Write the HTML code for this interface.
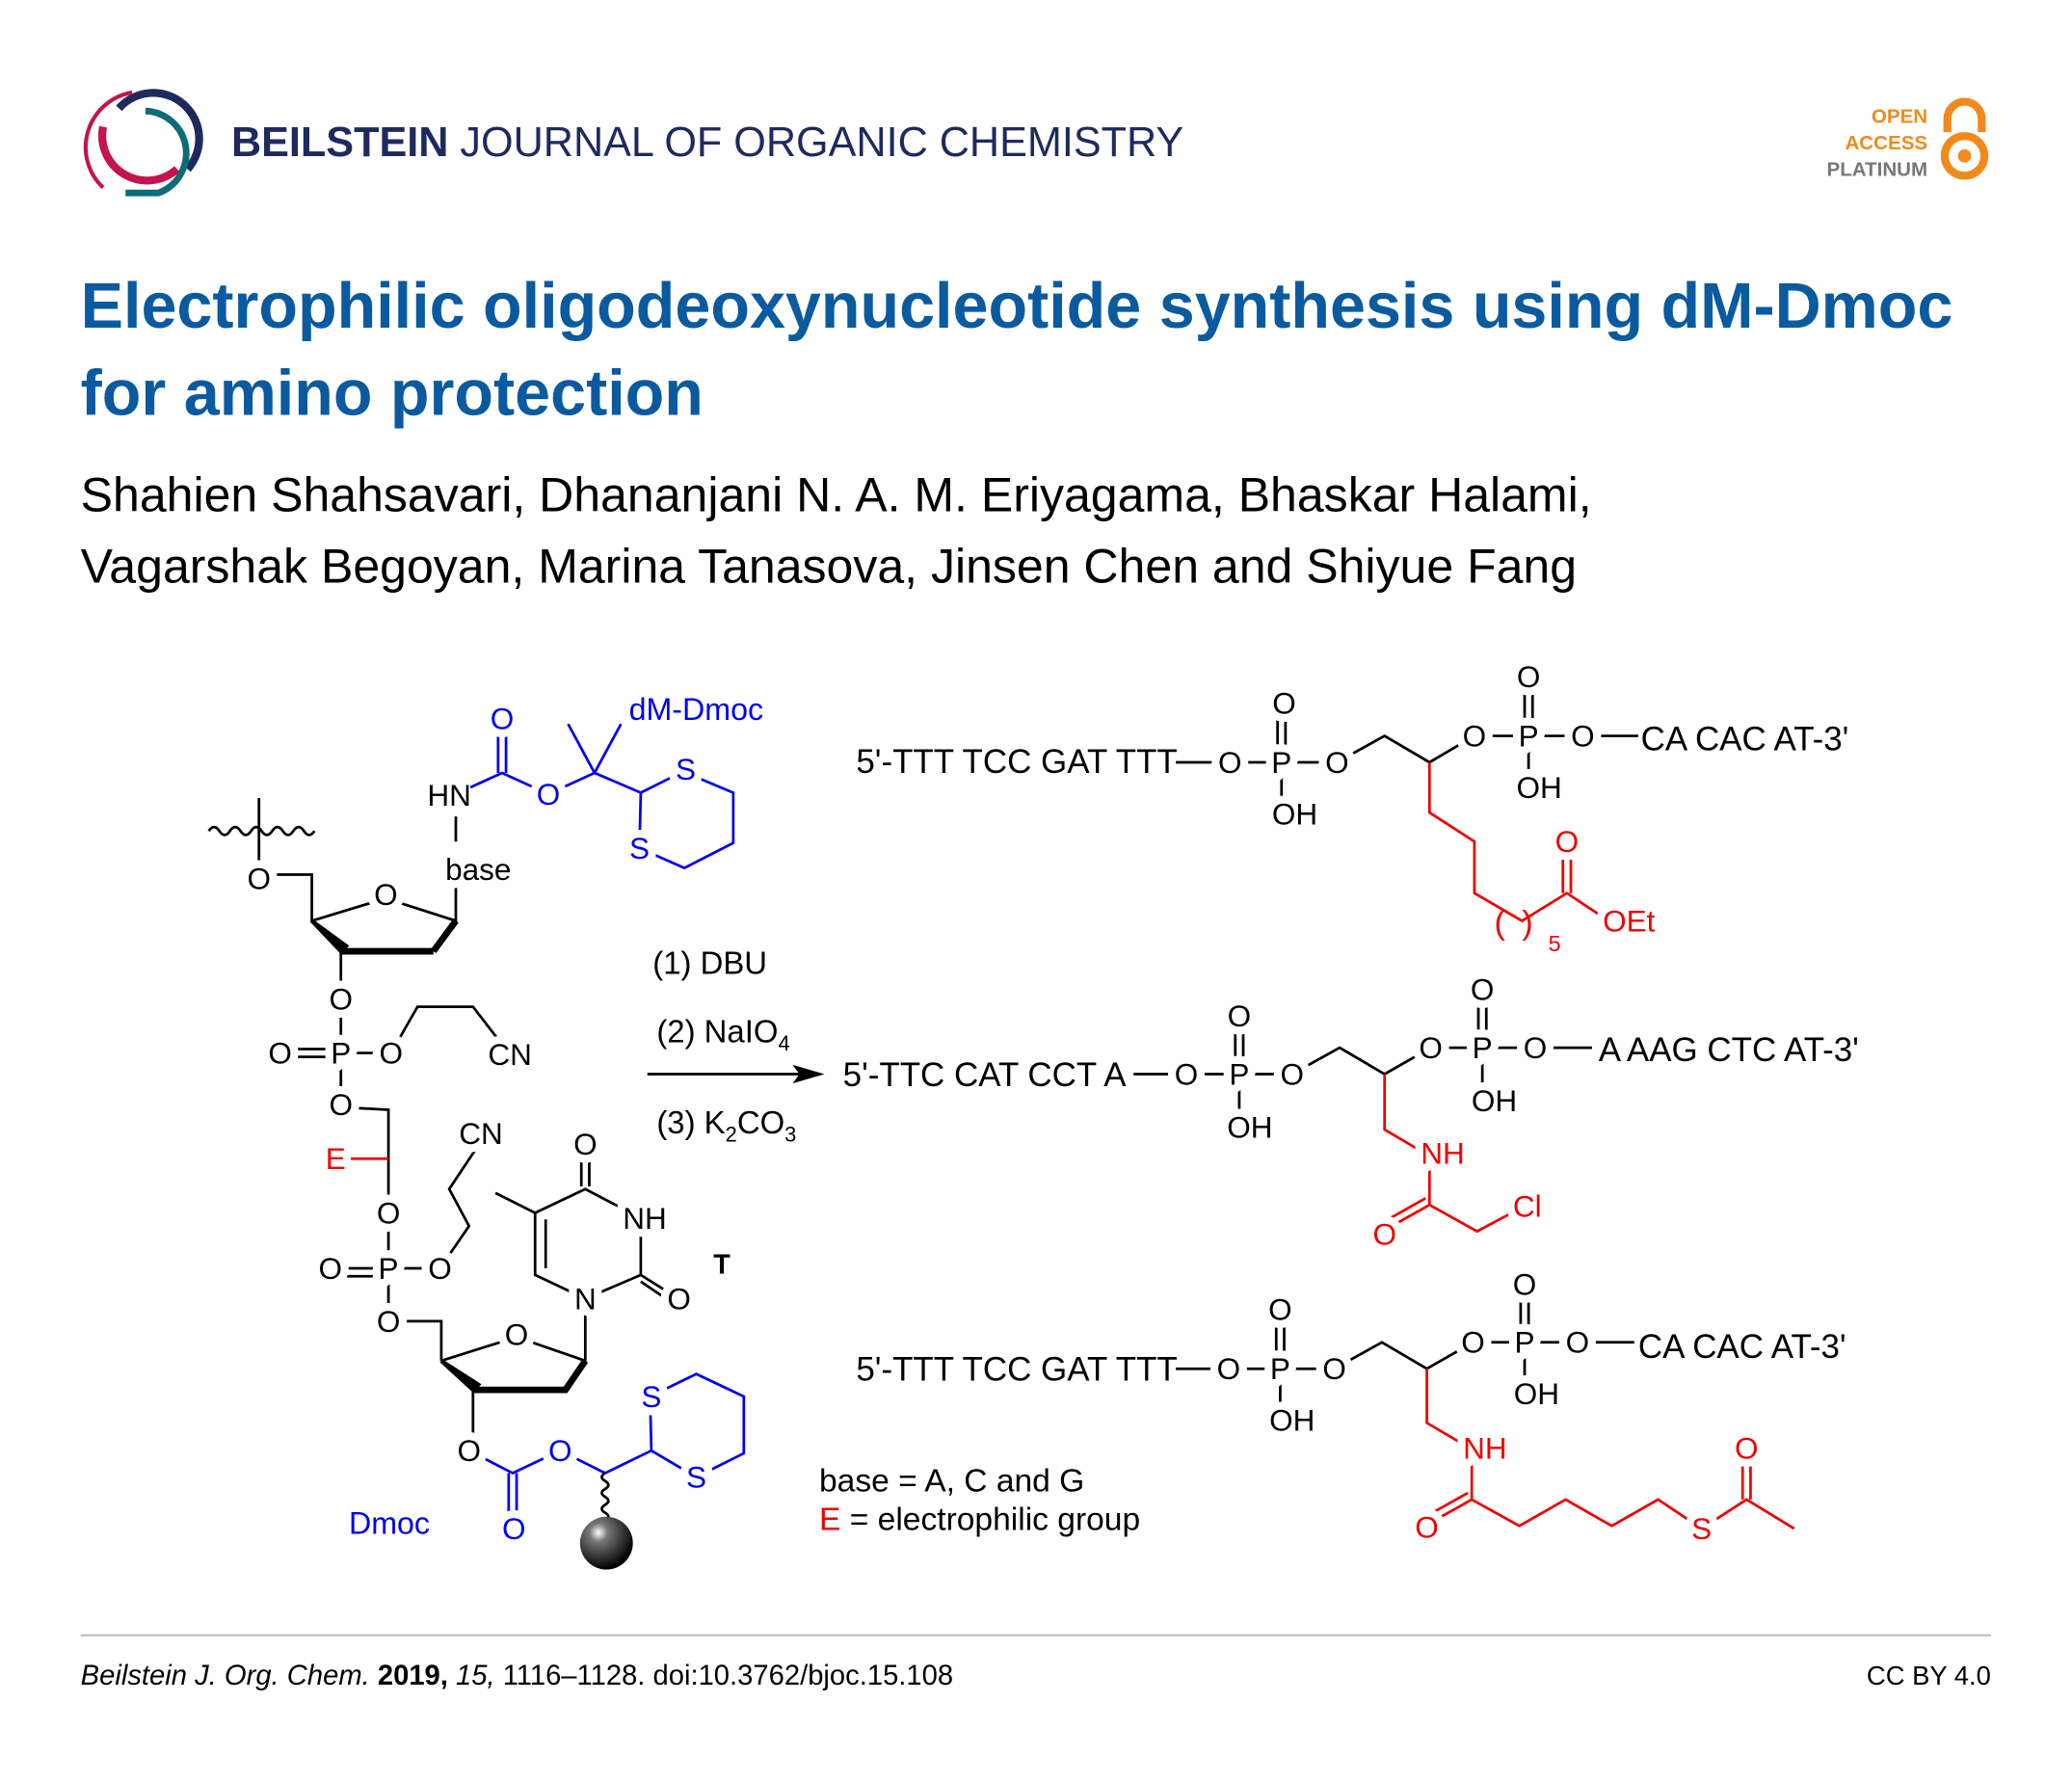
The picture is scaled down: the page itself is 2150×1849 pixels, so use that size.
<!DOCTYPE html>
<html><head><meta charset="utf-8"><style>
html,body{margin:0;padding:0;background:#fff;}
svg{display:block;}
text{font-family:"Liberation Sans",Arial,sans-serif;}
.a{font-size:23px;text-anchor:middle;paint-order:stroke;stroke:#fff;stroke-width:12px;stroke-linejoin:round;}
.k{stroke:#000;stroke-width:2;fill:none;}
.b{stroke:#0000ee;stroke-width:2;fill:none;}
.r{stroke:#ee0000;stroke-width:2;fill:none;}
.t{font-size:25.5px;}
</style></head><body>
<svg width="2150" height="1849" viewBox="0 0 1568.3 1348.8" xmlns="http://www.w3.org/2000/svg">
<defs>
<radialGradient id="bead" cx="0.35" cy="0.3" r="0.7">
<stop offset="0" stop-color="#fff"/><stop offset="0.25" stop-color="#777"/><stop offset="1" stop-color="#000"/>
</radialGradient>
</defs>
<g fill="none">
<path d="M90 82 A34 34 0 0 1 142 128" stroke="#1e2a5e" stroke-width="6"/>
<path d="M100 70 A42 42 0 0 0 78 142" stroke="#c4134f" stroke-width="3"/>
<path d="M78 96 A34 34 0 0 0 134 128" stroke="#c4134f" stroke-width="6"/>
<path d="M110 84 A32 32 0 0 1 120 146 L95 146" stroke="#0e6b78" stroke-width="5"/>
</g>
<text x="175" y="118" font-size="31.5" fill="#1e2a5e"><tspan font-weight="bold">BEILSTEIN</tspan> JOURNAL OF ORGANIC CHEMISTRY</text>
<g font-weight="bold" font-size="15" text-anchor="end">
<text x="1459" y="93" fill="#f08a1c">OPEN</text>
<text x="1459" y="113" fill="#f08a1c">ACCESS</text>
<text x="1459" y="133" fill="#777">PLATINUM</text>
</g>
<path d="M1474 100 V90 A13 13 0 0 1 1500 90 V100" fill="none" stroke="#f08a1c" stroke-width="6"/>
<circle cx="1487" cy="118" r="15" fill="none" stroke="#f08a1c" stroke-width="6"/>
<circle cx="1487" cy="118" r="5" fill="#f08a1c"/>
<g font-weight="bold" font-size="48.5" fill="#0a5aa0">
<text x="61" y="248">Electrophilic oligodeoxynucleotide synthesis using dM-Dmoc</text>
<text x="61" y="314">for amino protection</text>
</g>
<g font-size="36.5" fill="#000">
<text x="61" y="387">Shahien Shahsavari, Dhananjani N. A. M. Eriyagama, Bhaskar Halami,</text>
<text x="61" y="441">Vagarshak Begoyan, Marina Tanasova, Jinsen Chen and Shiyue Fang</text>
</g>

<path class="k" d="M158 629 q4 -6 8 0 q4 6 8 0 q4 -6 8 0 q4 6 8 0 q4 -6 8 0 q4 6 8 0 q4 -6 8 0 q4 6 8 0 q4 -6 8 0 q4 6 8 0"/>
<path class="k" d="M196 604 V665 M196 662 H236 V697 L292 680 L345 697 V665"/>
<path d="M236 697 L258 720 L262 716 Z" stroke="#000" stroke-width="3" fill="#000"/>
<path d="M258 720 H328 M328 720 L345 697" stroke="#000" stroke-width="5" fill="none"/>
<path class="k" d="M345 618 V637"/>
<text class="a" x="340" y="610">HN</text>
<text class="a" x="362" y="666">base</text>
<text class="a" x="292" y="685">O</text>
<text class="a" x="196" y="673">O</text>
<path class="b" d="M356 596 L380 585 L415 601 L450 585 L430 548 M450 585 L470 548 M450 585 L485 600 L517 584 L555 600 V638 L518 657 L484 642 L485 600 M377 585 V548 M383 585 V548"/>
<g fill="#0000ee"><text class="a" x="380" y="552">O</text><text class="a" x="415" y="609">O</text>
<text class="a" x="519" y="590">S</text><text class="a" x="484" y="650">S</text>
<text x="476" y="545" font-size="23.5">dM-Dmoc</text></g>
<path class="k" d="M258 720 V797 M258 797 V838 M258 797 H296 L316 762 H358 L378 788 M223 794 H250 M223 800 H250 M258 838 L294 840 V918 M294 918 V1000 M294 960 H333 L355 928 L340 900 L360 870 M258 960 H286 M258 966 H286 M294 1000 H334 V1030"/>
<path class="r" d="M262 877 H294"/>
<text class="a" x="258" y="764">O</text><text class="a" x="258" y="805">P</text>
<text class="a" x="212" y="805">O</text><text class="a" x="296" y="805">O</text>
<text class="a" x="386" y="806">CN</text><text class="a" x="258" y="844">O</text>
<text class="a" x="254" y="885" fill="#ee0000">E</text>
<text class="a" x="294" y="926">O</text><text class="a" x="294" y="968">P</text>
<text class="a" x="250" y="968">O</text><text class="a" x="333" y="968">O</text>
<text class="a" x="364" y="866">CN</text><text class="a" x="294" y="1008">O</text>
<path class="k" d="M334 1030 L391 1012 L443 1030 V983 M358 1052 V1098"/>
<path d="M334 1030 L358 1052 L362 1048 Z" stroke="#000" stroke-width="3" fill="#000"/>
<path d="M358 1052 H428 L443 1030" stroke="#000" stroke-width="5" fill="none"/>
<text class="a" x="391" y="1018">O</text>
<path class="k" d="M443 983 L485 965 L512 982 M485 965 V922 L443 900 L405 918 L375 903 M440 898 V866 M446 898 V866 M405 918 V965 L443 983 M413 923 V960 M485 970 L510 987"/>
<text class="a" x="443" y="991">N</text><text class="a" x="488" y="930">NH</text>
<text class="a" x="443" y="874">O</text><text class="a" x="514" y="991">O</text>
<text x="540" y="964" font-size="21" font-weight="bold">T</text>
<path class="b" d="M355 1098 L388 1115 L424 1098 L458 1115 M385 1115 V1154 M391 1115 V1154"/>
<path class="b" d="M458 1115 L493 1098 L492 1057 L527 1040 L563 1057 V1100 L527 1118 L493 1098"/>
<path class="k" d="M458 1115 q-5 3 0 6 q5 3 0 6 q-5 3 0 6 q5 3 0 6 q-5 3 0 6 q5 3 0 6 q-5 3 0 6 V1152" stroke-width="1.5"/>
<circle cx="459" cy="1168" r="20" fill="url(#bead)"/>
<text class="a" x="355" y="1106">O</text>
<g fill="#0000ee"><text class="a" x="424" y="1106">O</text><text class="a" x="389" y="1165">O</text>
<text class="a" x="493" y="1065">S</text><text class="a" x="527" y="1126">S</text>
<text x="264" y="1161" font-size="23.5">Dmoc</text></g>
<text x="494" y="737" font-size="24">(1) DBU</text>
<text x="497" y="789" font-size="24">(2) NaIO<tspan font-size="16" dy="6">4</tspan></text>
<text x="497" y="858" font-size="24">(3) K<tspan font-size="16" dy="6">2</tspan><tspan dy="-6">CO</tspan><tspan font-size="16" dy="6">3</tspan></text>
<path class="k" d="M490 813 H606"/><path d="M624 813 L600 806 L605 813 L600 820 Z" fill="#000"/>
<text x="620" y="1129" font-size="24.5">base = A, C and G</text>
<text x="620" y="1158" font-size="24.5"><tspan fill="#ee0000">E</tspan> = electrophilic group</text>

<text class="t" x="648" y="585">5'-TTT TCC GAT TTT</text>
<path class="k" d="M890 577 H1012 L1048 557 L1082 577 L1116 557 H1240 M970 577 V606 M967 577 V542 M973 577 V542 M1157 557 V586 M1154 557 V520 M1160 557 V520"/>
<path class="r" d="M1082 577 V615 L1116 637 V676 L1152 697 L1186 676 L1213 694 M1183 676 V644 M1189 676 V644"/>
<text class="a" x="931" y="585">O</text><text class="a" x="970" y="585">P</text><text class="a" x="1012" y="585">O</text>
<text class="a" x="972" y="540">O</text><text class="a" x="980" y="624">OH</text>
<text class="a" x="1116" y="565">O</text><text class="a" x="1157" y="565">P</text><text class="a" x="1198" y="565">O</text>
<text class="a" x="1157" y="520">O</text><text class="a" x="1165" y="604">OH</text>
<text class="t" x="1242" y="568" font-size="26">CA CAC AT-3'</text>
<g fill="#ee0000"><text class="a" x="1186" y="645">O</text><text class="a" x="1233" y="705">OEt</text>
<text x="1131" y="707" font-size="25">(</text><text x="1152" y="707" font-size="25">)</text>
<text x="1172" y="720" font-size="17">5</text></g>

<text class="t" x="638" y="822">5'-TTC CAT CCT A</text>
<path class="k" d="M858 813 H978 L1014 793 L1048 813 L1083 793 H1205 M938 813 V842 M935 813 V778 M941 813 V778 M1122 793 V822 M1119 793 V757 M1125 793 V757"/>
<path class="r" d="M1048 813 V855 L1082 875 V912 L1118 932 L1150 915 M1082 912 L1050 930 M1079 907 L1047 925"/>
<text class="a" x="898" y="821">O</text><text class="a" x="938" y="821">P</text><text class="a" x="978" y="821">O</text>
<text class="a" x="938" y="777">O</text><text class="a" x="946" y="861">OH</text>
<text class="a" x="1083" y="801">O</text><text class="a" x="1122" y="801">P</text><text class="a" x="1162" y="801">O</text>
<text class="a" x="1122" y="757">O</text><text class="a" x="1131" y="841">OH</text>
<text class="t" x="1210" y="803" font-size="26">A AAG CTC AT-3'</text>
<g fill="#ee0000"><text class="a" x="1092" y="881">NH</text><text class="a" x="1048" y="942">O</text><text class="a" x="1156" y="921">Cl</text></g>

<text class="t" x="648" y="1045">5'-TTT TCC GAT TTT</text>
<path class="k" d="M890 1036 H1010 L1046 1016 L1080 1036 L1115 1016 H1237 M969 1036 V1065 M966 1036 V1000 M972 1036 V1000 M1154 1016 V1045 M1151 1016 V980 M1157 1016 V980"/>
<path class="r" d="M1080 1036 V1077 L1114 1097 V1135 L1150 1155 L1185 1135 L1220 1155 L1255 1135 L1288 1157 L1322 1135 L1358 1157 M1319 1135 V1104 M1325 1135 V1104 M1114 1135 L1082 1153 M1111 1130 L1079 1148"/>
<text class="a" x="930" y="1044">O</text><text class="a" x="969" y="1044">P</text><text class="a" x="1010" y="1044">O</text>
<text class="a" x="969" y="999">O</text><text class="a" x="978" y="1083">OH</text>
<text class="a" x="1115" y="1024">O</text><text class="a" x="1154" y="1024">P</text><text class="a" x="1194" y="1024">O</text>
<text class="a" x="1154" y="980">O</text><text class="a" x="1163" y="1063">OH</text>
<text class="t" x="1240" y="1028" font-size="26">CA CAC AT-3'</text>
<g fill="#ee0000"><text class="a" x="1124" y="1104">NH</text><text class="a" x="1080" y="1164">O</text>
<text class="a" x="1288" y="1165">S</text><text class="a" x="1322" y="1104">O</text></g>

<rect x="61" y="1237" width="1446" height="1.5" fill="#bbb"/>
<text x="61" y="1275" font-size="21.3"><tspan font-style="italic">Beilstein J. Org. Chem.</tspan> <tspan font-weight="bold">2019,</tspan> <tspan font-style="italic">15,</tspan> 1116–1128. doi:10.3762/bjoc.15.108</text>
<text x="1507" y="1275" font-size="20" text-anchor="end">CC BY 4.0</text>
</svg>
</body></html>
